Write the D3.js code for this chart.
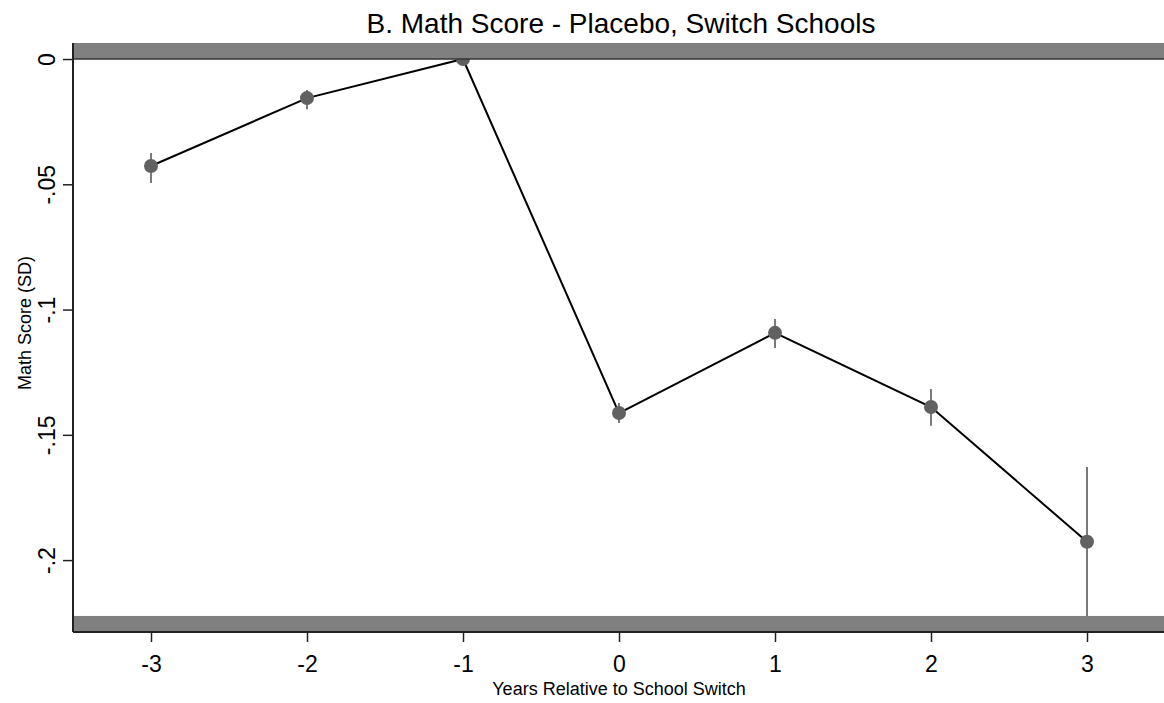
<!DOCTYPE html>
<html>
<head>
<meta charset="utf-8">
<script src="https://cdn.jsdelivr.net/npm/d3@7"></script>
<style>
    body { margin: 0; background: #fff; }
    text { font-family: "Liberation Sans", Arial, sans-serif; fill: #000; }
</style>
</head>
<body>
<div id="chart"></div>
<script>
// event-study estimates
const years = [-3, -2, -1, 0, 1, 2, 3];
const estimates = [-0.0427, -0.0156, 0, -0.1413, -0.1093, -0.1389, -0.1927];
const ciLow = [-0.0495, -0.0200, 0, -0.1453, -0.1153, -0.1464, -0.2287];
const ciHigh = [-0.0375, -0.0124, 0, -0.1373, -0.1038, -0.1317, -0.1628];

const yTicks = [0, -0.05, -0.1, -0.15, -0.2];
const yTickLabels = ["0", "-.05", "-.1", "-.15", "-.2"];
const xTicks = [-3, -2, -1, 0, 1, 2, 3];

// shaded strips at the top and bottom of the plot region
const topBand = [0.0064, 0];
const bottomBand = [-0.2223, -0.2287];

const width = 1164, height = 703;

let svg = d3.select("#chart").append("svg")
    .attr("width", width)
    .attr("height", height);

// scales
let x = d3.scaleLinear().domain([-3.5, 3.5]).range([73, 1165]);
let y = d3.scaleLinear().domain([topBand[0], bottomBand[1]]).range([43, 632]);

let rows = years.map((yr, i) => ({year: yr, est: estimates[i], lo: ciLow[i], hi: ciHigh[i]}));

// confidence intervals
svg.append("g").selectAll("line")
    .data(rows)
    .enter().append("line")
    .attr("x1", d => x(d.year))
    .attr("x2", d => x(d.year))
    .attr("y1", d => y(d.hi))
    .attr("y2", d => y(d.lo))
    .attr("stroke", "#7a7a7a")
    .attr("stroke-width", 2);

// connecting line
svg.append("path")
    .datum(rows)
    .attr("fill", "none")
    .attr("stroke", "#000")
    .attr("stroke-width", 2)
    .attr("d", d3.line().x(d => x(d.year)).y(d => y(d.est)));

// points
svg.append("g").selectAll("circle")
    .data(rows)
    .enter().append("circle")
    .attr("cx", d => x(d.year))
    .attr("cy", d => y(d.est))
    .attr("r", 7)
    .attr("fill", "#616161");

// bands
[topBand, bottomBand].forEach(b => {
    svg.append("rect")
        .attr("x", x(-3.5))
        .attr("y", y(b[0]))
        .attr("width", width - x(-3.5))
        .attr("height", y(b[1]) - y(b[0]))
        .attr("fill", "#808080");
});

// zero line
svg.append("line")
    .attr("x1", x(-3.5)).attr("x2", width)
    .attr("y1", y(0)).attr("y2", y(0))
    .attr("stroke", "#333").attr("stroke-width", 1.5);

// x axis
let xAxis = svg.append("g")
    .attr("transform", `translate(0, ${y(bottomBand[1])})`)
    .call(d3.axisBottom(x).tickValues(xTicks).tickSize(10).tickPadding(14).tickFormat(d3.format("d")));
xAxis.select(".domain").attr("stroke", "#222").attr("stroke-width", 2)
    .attr("d", `M${x(-3.5)},0H${width}`);
xAxis.selectAll(".tick line").attr("stroke", "#222").attr("stroke-width", 1.5);
xAxis.selectAll(".tick text")
    .attr("font-size", "23px")
    .attr("font-family", "Liberation Sans, Arial, sans-serif")
    .text(d => d < 0 ? "-" + Math.abs(d) : d);

// y axis
let yAxis = svg.append("g")
    .attr("transform", `translate(${x(-3.5)}, 0)`)
    .call(d3.axisLeft(y).tickValues(yTicks).tickSize(10).tickFormat((d, i) => yTickLabels[i]));
yAxis.select(".domain").attr("stroke", "#222").attr("stroke-width", 2)
    .attr("d", `M0,${y(topBand[0])}V${y(bottomBand[1])}`);
yAxis.selectAll(".tick line").attr("stroke", "#222").attr("stroke-width", 1.5);
yAxis.selectAll(".tick text")
    .attr("font-size", "23px")
    .attr("font-family", "Liberation Sans, Arial, sans-serif")
    .attr("text-anchor", "middle")
    .attr("x", null).attr("dy", null)
    .attr("transform", "translate(-18, 0) rotate(-90)");

// titles
svg.append("text")
    .attr("x", 621).attr("y", 33)
    .attr("text-anchor", "middle")
    .attr("font-size", "28px")
    .text("B. Math Score - Placebo, Switch Schools");

svg.append("text")
    .attr("x", 619).attr("y", 695)
    .attr("text-anchor", "middle")
    .attr("font-size", "18px")
    .text("Years Relative to School Switch");

svg.append("text")
    .attr("transform", "translate(31, 323) rotate(-90)")
    .attr("text-anchor", "middle")
    .attr("font-size", "18px")
    .text("Math Score (SD)");
</script>
</body>
</html>
